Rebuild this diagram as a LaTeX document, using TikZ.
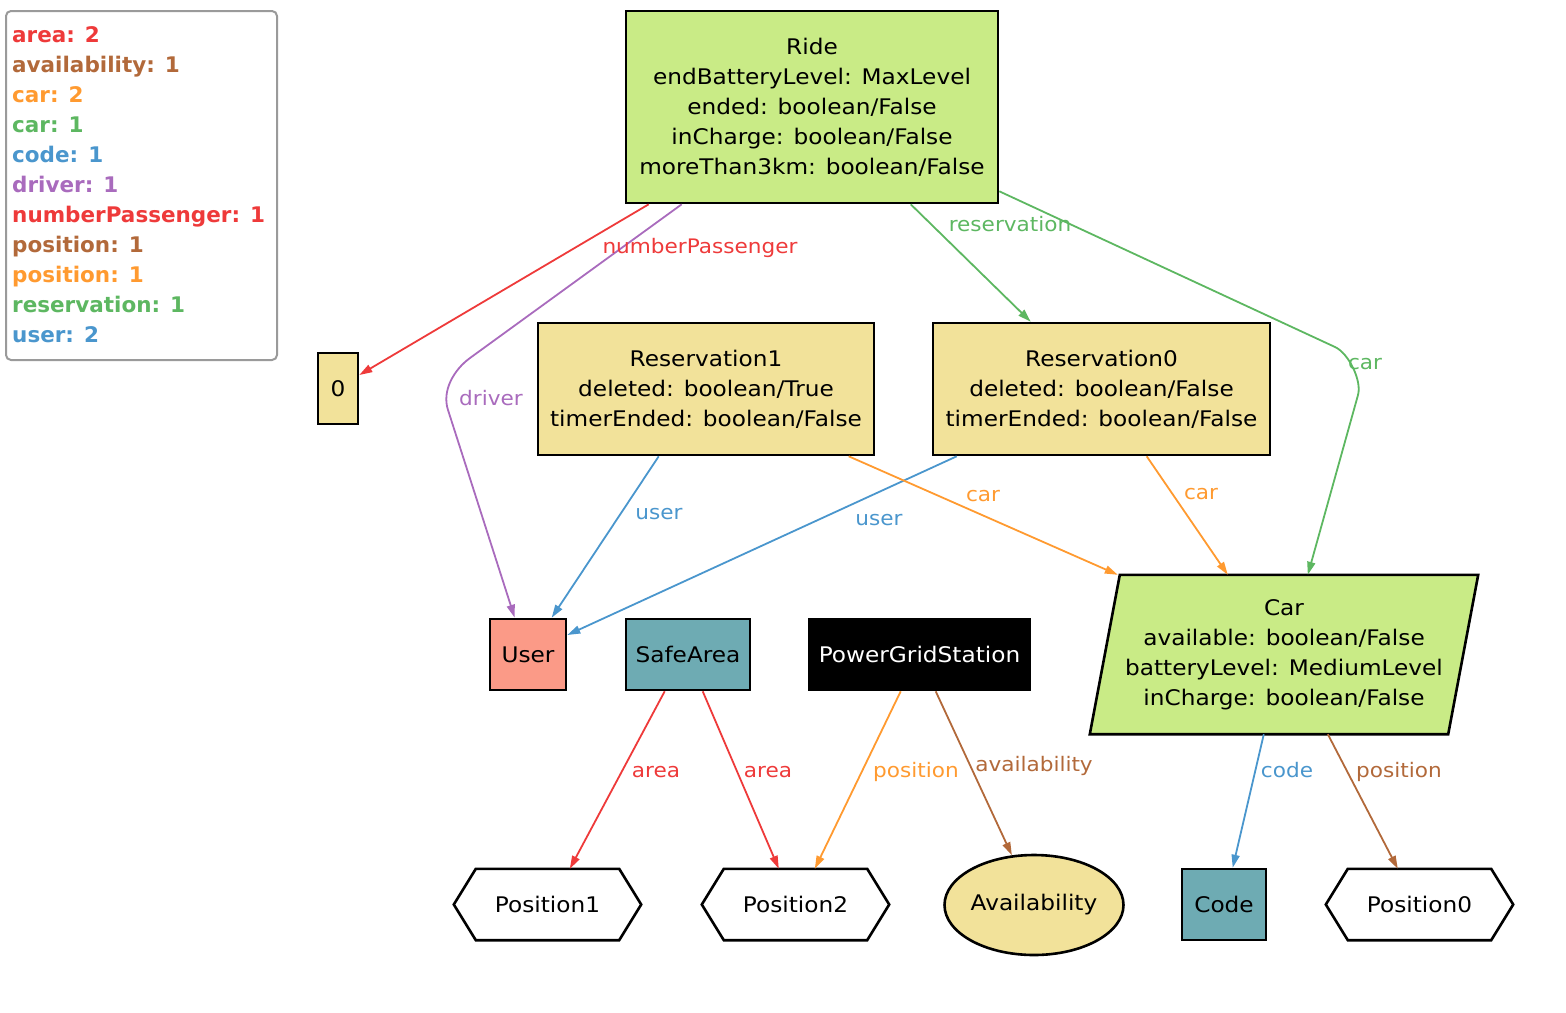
\documentclass[tikz,border=0pt]{standalone}
\usepackage{fontspec}
\setmainfont{DejaVu Sans}[FakeStretch=1.08]
\newfontfamily\legfont{DejaVu Sans}
\usetikzlibrary{arrows.meta,shapes.geometric,backgrounds}
\definecolor{rideg}{HTML}{C9EB86}
\definecolor{khaki}{HTML}{F2E29A}
\definecolor{salmon}{HTML}{FB9A87}
\definecolor{tealc}{HTML}{6EABB3}
\definecolor{cred}{HTML}{EE3A3A}
\definecolor{cbrown}{HTML}{B2693A}
\definecolor{corange}{HTML}{FF9A30}
\definecolor{cgreen}{HTML}{5DB761}
\definecolor{cblue}{HTML}{4A96CD}
\definecolor{cpurple}{HTML}{A96BBD}
\definecolor{leggray}{HTML}{9A9A9A}
\tikzset{
  box/.style={draw=black, line width=2.6pt, inner sep=0pt, align=center, font=\fontsize{21.5}{30}\selectfont},
  plain/.style={inner sep=0pt, align=center, font=\fontsize{21.5}{30}\selectfont},
  outline/.style={draw=black, line width=2.6pt},
  edge/.style={line width=1.8pt, -{Triangle[length=13pt,width=8pt]}},
  lbl/.style={anchor=base, inner sep=0pt, font=\fontsize{20}{24}\selectfont},
  leg/.style={anchor=base west, inner sep=0pt, font=\legfont\bfseries\fontsize{21.5}{30}\selectfont},
}
\begin{document}
\begin{tikzpicture}[x=1pt,y=-1pt]
\useasboundingbox (0,0) rectangle (1566,1012);

% legend
\node[draw=leggray, line width=2pt, rounded corners=5pt, minimum width=271pt, minimum height=349pt, inner sep=0pt] (legbox) at (141.5,185.5) {};
\node[leg, text=cred] (lg1) at (12,42) {area: 2};
\node[leg, text=cbrown] (lg2) at (12,72) {availability: 1};
\node[leg, text=corange] (lg3) at (12,102) {car: 2};
\node[leg, text=cgreen] (lg4) at (12,132) {car: 1};
\node[leg, text=cblue] (lg5) at (12,162) {code: 1};
\node[leg, text=cpurple] (lg6) at (12,192) {driver: 1};
\node[leg, text=cred] (lg7) at (12,222) {numberPassenger: 1};
\node[leg, text=cbrown] (lg8) at (12,252) {position: 1};
\node[leg, text=corange] (lg9) at (12,282) {position: 1};
\node[leg, text=cgreen] (lg10) at (12,312) {reservation: 1};
\node[leg, text=cblue] (lg11) at (12,342) {user: 2};

% nodes
\node[box, fill=rideg, minimum width=372pt, minimum height=192pt] (ride) at (812,107)
  {Ride\\endBatteryLevel: MaxLevel\\ended: boolean/False\\inCharge: boolean/False\\moreThan3km: boolean/False};
\node[box, fill=khaki, minimum width=40pt, minimum height=71pt] (zero) at (338,388.5) {0};
\node[box, fill=khaki, minimum width=336pt, minimum height=132pt] (res1) at (706,389)
  {Reservation1\\deleted: boolean/True\\timerEnded: boolean/False};
\node[box, fill=khaki, minimum width=337pt, minimum height=132pt] (res0) at (1101.5,389)
  {Reservation0\\deleted: boolean/False\\timerEnded: boolean/False};
\node[box, fill=salmon, minimum width=76pt, minimum height=71pt] (user) at (528,654.5) {User};
\node[box, fill=tealc, minimum width=124pt, minimum height=71pt] (safe) at (688,654.5) {SafeArea};
\node[box, fill=black, text=white, minimum width=221pt, minimum height=71pt] (pgs) at (919.5,654.5) {PowerGridStation};
\node[plain, minimum width=388pt, minimum height=159pt] (car) at (1284,654.5)
  {Car\\available: boolean/False\\batteryLevel: MediumLevel\\inCharge: boolean/False};
\node[plain, minimum width=187pt, minimum height=71pt] (pos1) at (547.5,904.5) {Position1};
\node[plain, minimum width=187pt, minimum height=71pt] (pos2) at (795.5,904.5) {Position2};
\node[box, ellipse, fill=khaki, minimum width=174pt, minimum height=100pt] (avail) at (1034,905) {Availability};
\node[box, fill=tealc, minimum width=84pt, minimum height=71pt] (code) at (1224,904.5) {Code};
\node[plain, minimum width=187pt, minimum height=71pt] (pos0) at (1419.5,904.5) {Position0};

\begin{pgfonlayer}{background}
  \draw[outline, fill=rideg] ([xshift=30pt]car.north west) -- (car.north east) -- ([xshift=-30pt]car.south east) -- (car.south west) -- cycle;
  \foreach \p in {pos1,pos2,pos0}{
    \draw[outline, fill=white] (\p.west) -- ([xshift=22pt]\p.north west) -- ([xshift=-22pt]\p.north east) -- (\p.east)
      -- ([xshift=-22pt]\p.south east) -- ([xshift=22pt]\p.south west) -- cycle;
  }
\end{pgfonlayer}

% bend points
\coordinate (d1) at (470,358);
\coordinate (d2) at (448,410);
\coordinate (g1) at (1335,347);
\coordinate (g2) at (1358,395);

% edges
\draw[edge, cred] ([xshift=24pt]ride.south west) -- ([yshift=13.5pt]zero.east);
\draw[edge, cpurple] ([xshift=57pt]ride.south west) -- (d1) .. controls (453.8,369.8) and (441.7,390.8) .. (d2) -- ([xshift=26pt]user.north west);
\draw[edge, cgreen] ([xshift=286pt]ride.south west) -- ([xshift=99pt]res0.north west);
\draw[edge, cgreen] ([yshift=13pt]ride.south east) -- (g1) .. controls (1348.6,353.3) and (1362,380.6) .. (g2) -- ([xshift=218pt]car.north west);
\draw[edge, cblue] ([xshift=122pt]res1.south west) -- ([xshift=63pt]user.north west);
\draw[edge, cblue] ([xshift=25pt]res0.south west) -- ([yshift=19.5pt]user.east);
\draw[edge, corange] ([xshift=312pt]res1.south west) -- ([xshift=28pt]car.north west);
\draw[edge, corange] ([xshift=215pt]res0.south west) -- ([xshift=138pt]car.north west);
\draw[edge, cred] ([xshift=40pt]safe.south west) -- ([xshift=116pt]pos1.north west);
\draw[edge, cred] ([xshift=78pt]safe.south west) -- ([xshift=77pt]pos2.north west);
\draw[edge, corange] ([xshift=93pt]pgs.south west) -- ([xshift=113pt]pos2.north west);
\draw[edge, cbrown] ([xshift=128pt]pgs.south west) -- (avail.114);
\draw[edge, cblue] ([xshift=174pt]car.south west) -- ([xshift=52pt]code.north west);
\draw[edge, cbrown] ([xshift=238pt]car.south west) -- ([xshift=72pt]pos0.north west);

% edge labels
\node[lbl, text=cred] (l1) at (700,253) {numberPassenger};
\node[lbl, text=cpurple] (l2) at (491,405) {driver};
\node[lbl, text=cgreen] (l3) at (1010,231) {reservation};
\node[lbl, text=cgreen] (l4) at (1365,369) {car};
\node[lbl, text=cblue] (l5) at (659,519) {user};
\node[lbl, text=cblue] (l6) at (879,525) {user};
\node[lbl, text=corange] (l7) at (983,501) {car};
\node[lbl, text=corange] (l8) at (1201,499) {car};
\node[lbl, text=cred] (l9) at (656,777) {area};
\node[lbl, text=cred] (l10) at (768,777) {area};
\node[lbl, text=corange] (l11) at (916,777) {position};
\node[lbl, text=cbrown] (l12) at (1034,771) {availability};
\node[lbl, text=cblue] (l13) at (1287,777) {code};
\node[lbl, text=cbrown] (l14) at (1399,777) {position};
\end{tikzpicture}
\end{document}
